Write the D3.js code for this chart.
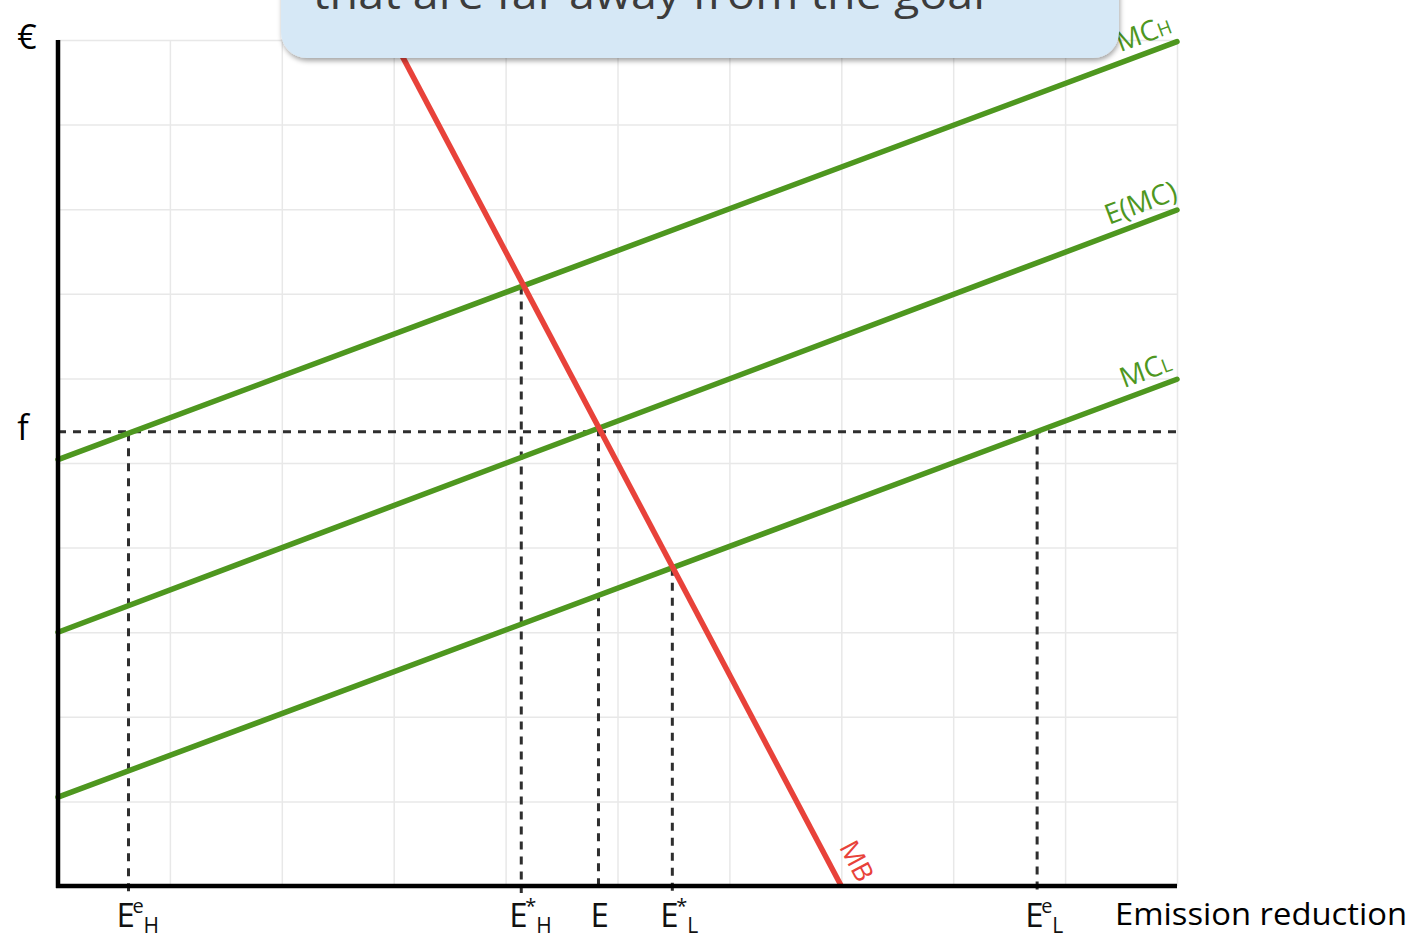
<!DOCTYPE html>
<html>
<head>
<meta charset="utf-8">
<script src="https://cdn.jsdelivr.net/npm/d3@7"></script>
<style>
  html, body { margin: 0; padding: 0; background: #ffffff; }
  svg { display: block; }
  text { font-family: "Open Sans", "Noto Sans", sans-serif; }
</style>
</head>
<body>
<svg id="chart" width="1416" height="940"></svg>
<script>
// ---- data (abatement cost / benefit diagram, arbitrary units 0..10) ----
const gridTicks = [0, 1, 2, 3, 4, 5, 6, 7, 8, 9, 10];

// marginal cost curves: value at x = 0 and at x = 10
const mcNames = ["MC", "E(MC)", "MC"];
const mcSubs = ["H", "", "L"];
const mcStart = [5.04, 3.0, 1.05];
const mcEnd = [9.98, 7.99, 5.99];

// marginal benefit curve: two points (x, y)
const mbX = [2.9, 7.0];
const mbY = [10.25, 0];

// fee level
const feeLevel = 5.37;

// emission reduction levels marked on the x axis
const markBase = ["E", "E", "E", "E", "E"];
const markSup = ["e", "*", "", "*", "e"];
const markSub = ["H", "H", "", "L", "L"];
const markX = [0.63, 4.14, 4.83, 5.49, 8.75];
const markCurve = [0, 0, 1, 2, 2]; // curve on which each dashed drop starts

// ---- layout ----
const svg = d3.select("#chart");
const x = d3.scaleLinear().domain([0, 10]).range([58, 1177]);
const y = d3.scaleLinear().domain([0, 10]).range([886, 40]);

const GREEN = "#4e971f";
const RED = "#e8423a";
const DASH = "#2e2e2e";

const mcAt = (i, v) => mcStart[i] + (mcEnd[i] - mcStart[i]) * v / 10;

// grid
const grid = svg.append("g").attr("class", "grid");
grid.append("g")
  .attr("transform", `translate(0,${y(0)})`)
  .call(d3.axisBottom(x).tickValues(gridTicks).tickSize(-(y(0) - y(10))).tickFormat(""))
  .call(g => g.select(".domain").remove())
  .call(g => g.selectAll("line").attr("stroke", "#e8e8e8").attr("stroke-width", 1.5));
grid.append("g")
  .attr("transform", `translate(${x(0)},0)`)
  .call(d3.axisLeft(y).tickValues(gridTicks).tickSize(-(x(10) - x(0))).tickFormat(""))
  .call(g => g.select(".domain").remove())
  .call(g => g.selectAll("line").attr("stroke", "#e8e8e8").attr("stroke-width", 1.5));

// dashed guides
const guides = svg.append("g")
  .attr("stroke", DASH).attr("stroke-width", 3).attr("stroke-dasharray", "8,7").attr("fill", "none");
guides.append("line")
  .attr("x1", x(0)).attr("x2", x(10))
  .attr("y1", y(feeLevel)).attr("y2", y(feeLevel));
guides.selectAll("line.drop")
  .data(markX)
  .join("line")
  .attr("class", "drop")
  .attr("x1", d => x(d)).attr("x2", d => x(d))
  .attr("y1", (d, i) => y(mcAt(markCurve[i], d)))
  .attr("y2", y(0) + 7);

// cost curves
const line = d3.line().x(d => x(d[0])).y(d => y(d[1]));
svg.append("g").selectAll("path")
  .data(mcStart.map((s, i) => [[0, s], [10, mcEnd[i]]]))
  .join("path")
  .attr("d", line)
  .attr("fill", "none")
  .attr("stroke", GREEN)
  .attr("stroke-width", 5.5)
  .attr("stroke-linecap", "round");

// benefit curve
svg.append("path")
  .datum(mbX.map((v, i) => [v, mbY[i]]))
  .attr("d", line)
  .attr("fill", "none")
  .attr("stroke", RED)
  .attr("stroke-width", 5.5);

// axes
svg.append("line")
  .attr("x1", x(0)).attr("x2", x(0))
  .attr("y1", y(10)).attr("y2", y(0) + 2)
  .attr("stroke", "#000").attr("stroke-width", 4.5);
svg.append("line")
  .attr("x1", x(0) - 2).attr("x2", x(10))
  .attr("y1", y(0)).attr("y2", y(0))
  .attr("stroke", "#000").attr("stroke-width", 4.5);

// curve labels
mcStart.forEach((s, i) => {
  const x0 = x(0), y0 = y(s), x1 = x(10), y1 = y(mcEnd[i]);
  const ang = Math.atan2(y1 - y0, x1 - x0) * 180 / Math.PI;
  const t = svg.append("text")
    .attr("transform", `translate(${x1},${y1}) rotate(${ang})`)
    .attr("x", i === 1 ? 6 : 0).attr("y", -10)
    .attr("text-anchor", "end")
    .attr("fill", GREEN)
    .attr("font-size", 28)
    .text(mcNames[i]);
  if (mcSubs[i]) t.append("tspan").attr("font-size", 19).text(mcSubs[i]);
});

{
  const x0 = x(mbX[0]), y0 = y(mbY[0]), x1 = x(mbX[1]), y1 = y(mbY[1]);
  const ang = Math.atan2(y1 - y0, x1 - x0) * 180 / Math.PI;
  svg.append("text")
    .attr("transform", `translate(${x1},${y1}) rotate(${ang})`)
    .attr("x", 6).attr("y", -16)
    .attr("text-anchor", "end")
    .attr("fill", RED)
    .attr("font-size", 27)
    .text("MB");
}

// axis labels
svg.append("text").attr("x", 27).attr("y", 49).attr("text-anchor", "middle")
  .attr("font-size", 34).attr("fill", "#000").text("€");
svg.append("text").attr("x", 23).attr("y", y(feeLevel) + 8).attr("text-anchor", "middle")
  .attr("font-size", 34).attr("fill", "#000").text("f");

markX.forEach((v, i) => {
  const px = x(v);
  const single = !markSup[i] && !markSub[i];
  const start = single ? px - 8 : px - 12;
  const t = svg.append("text")
    .attr("y", 927)
    .attr("font-size", 33)
    .attr("fill", "#111");
  t.append("tspan").attr("x", start).text(markBase[i]);
  if (markSup[i]) {
    t.append("tspan").attr("x", start + 16).attr("y", 913).attr("font-size", 20).text(markSup[i]);
  }
  if (markSub[i]) {
    t.append("tspan").attr("x", start + 27).attr("y", 933).attr("font-size", 21).text(markSub[i]);
  }
});

svg.append("text")
  .attr("x", 1115).attr("y", 925)
  .attr("font-size", 31)
  .attr("fill", "#000")
  .attr("textLength", 292).attr("lengthAdjust", "spacingAndGlyphs")
  .text("Emission reduction");

// callout box
const defs = svg.append("defs");
const f = defs.append("filter").attr("id", "shadow")
  .attr("x", "-10%").attr("y", "-10%").attr("width", "120%").attr("height", "140%");
f.append("feDropShadow").attr("dx", 1).attr("dy", 3).attr("stdDeviation", 2.5)
  .attr("flood-color", "#000").attr("flood-opacity", 0.35);

svg.append("rect")
  .attr("x", 281).attr("y", -60)
  .attr("width", 838).attr("height", 118)
  .attr("rx", 26)
  .attr("fill", "#d6e8f6")
  .attr("filter", "url(#shadow)");
svg.append("text")
  .attr("x", 313).attr("y", 9)
  .attr("font-size", 42)
  .attr("fill", "#3c3c3c")
  .attr("textLength", 672).attr("lengthAdjust", "spacingAndGlyphs")
  .text("that are far away from the goal");
</script>
</body>
</html>
